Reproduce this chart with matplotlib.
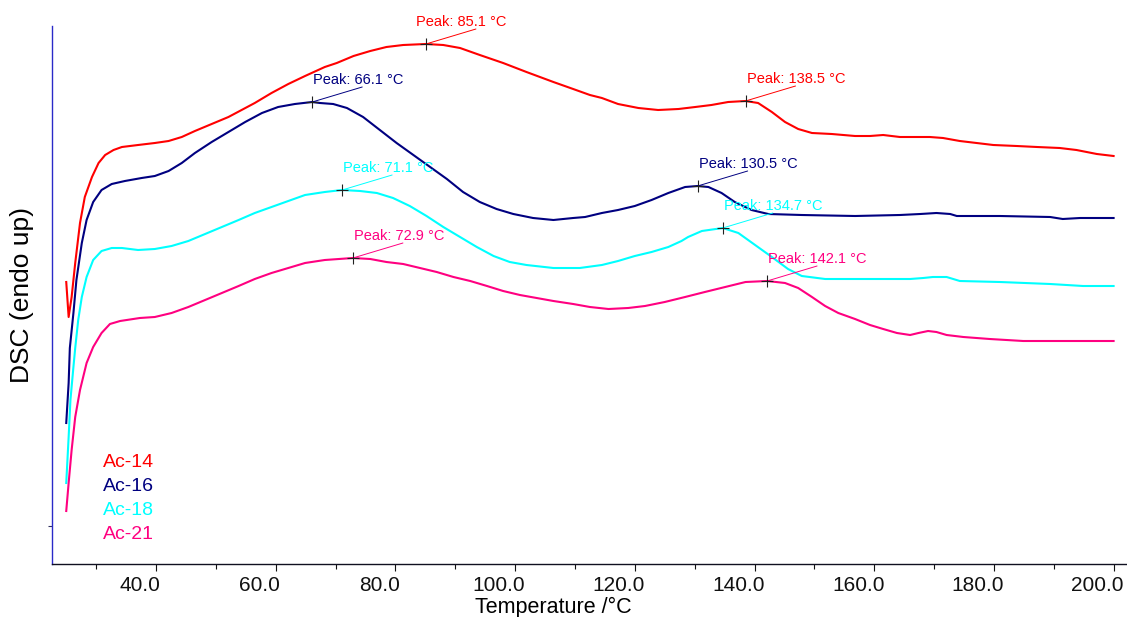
import numpy as np
import matplotlib
matplotlib.use("Agg")
import matplotlib.pyplot as plt
from matplotlib.transforms import ScaledTranslation

plt.rcParams['font.family'] = ['Liberation Sans', 'DejaVu Sans']

# Heating scans (temperature in °C, heat flow in arbitrary DSC units, endo up)
t_ac14 = [25.0, 25.4, 25.9, 26.5, 27.3, 28.1, 29.3, 30.4, 31.5, 32.9, 34.3, 37.0,
          39.8, 42.1, 44.3, 46.5, 49.3, 52.1, 54.3, 56.5, 59.3, 62.1, 64.9, 68.2,
          70.2, 73.0, 75.8, 78.5, 81.3, 85.1, 88.0, 90.8, 94.1, 98.0, 101.9, 106.4,
          109.7, 112.5, 114.5, 117.2, 120.6, 123.9, 127.3, 130.1, 132.8, 135.6,
          138.5, 140.6, 142.9, 145.1, 147.3, 149.6, 152.9, 156.8, 159.3, 161.5,
          164.3, 167.1, 169.3, 171.5, 174.3, 177.1, 179.9, 183.8, 187.2, 191.0,
          193.8, 197.2, 200.0]
dsc_ac14 = [2.83, 2.48, 2.68, 3.02, 3.42, 3.68, 3.88, 4.02, 4.10, 4.15, 4.18, 4.20,
            4.22, 4.24, 4.28, 4.34, 4.41, 4.48, 4.55, 4.62, 4.72, 4.81, 4.89, 4.98,
            5.02, 5.09, 5.14, 5.18, 5.20, 5.21, 5.20, 5.17, 5.10, 5.02, 4.93, 4.83,
            4.76, 4.70, 4.67, 4.61, 4.57, 4.55, 4.56, 4.58, 4.60, 4.63,
            4.64, 4.62, 4.53, 4.43, 4.36, 4.32, 4.31, 4.29, 4.29, 4.30,
            4.28, 4.28, 4.28, 4.27, 4.24, 4.22, 4.20, 4.19, 4.18, 4.17,
            4.15, 4.11, 4.09]

t_ac16 = [25.0, 25.4, 25.6, 26.2, 26.7, 27.6, 28.4, 29.5, 30.9, 32.6, 34.8, 37.6,
          39.8, 42.1, 44.3, 46.5, 49.3, 52.1, 54.9, 57.7, 60.4, 63.2, 66.1, 67.4,
          69.6, 71.9, 74.6, 77.4, 80.2, 83.0, 85.8, 88.6, 91.3, 94.1, 96.9, 99.7,
          103.0, 106.4, 109.7, 111.7, 114.5, 117.2, 120.0, 122.8, 125.6, 128.4,
          130.5, 132.3, 134.5, 136.7, 139.5, 142.3, 147.9, 156.8, 164.3, 167.7,
          170.4, 172.7, 173.8, 181.0, 189.4, 191.5, 194.4, 200.0]
dsc_ac16 = [1.42, 1.82, 2.17, 2.52, 2.85, 3.22, 3.45, 3.63, 3.75, 3.81, 3.84, 3.87,
            3.89, 3.94, 4.02, 4.12, 4.23, 4.33, 4.43, 4.52, 4.58, 4.61, 4.63, 4.62,
            4.61, 4.57, 4.48, 4.35, 4.22, 4.10, 3.98, 3.86, 3.73, 3.63, 3.56, 3.51,
            3.47, 3.45, 3.47, 3.48, 3.52, 3.55, 3.59, 3.65, 3.72, 3.78,
            3.79, 3.78, 3.72, 3.63, 3.55, 3.51, 3.50, 3.49, 3.50, 3.51,
            3.52, 3.51, 3.49, 3.49, 3.48, 3.46, 3.47, 3.47]

t_ac18 = [25.0, 25.4, 25.7, 26.2, 26.5, 27.0, 27.6, 28.4, 29.5, 30.9, 32.6, 34.3,
          37.0, 39.8, 42.6, 45.4, 48.2, 51.0, 53.8, 56.5, 59.3, 62.1, 64.9, 68.2,
          71.1, 74.1, 76.9, 79.6, 82.4, 85.2, 88.0, 90.8, 93.6, 96.4, 99.1, 101.9,
          106.4, 110.8, 114.5, 117.2, 120.0, 122.8, 125.6, 127.8, 128.9, 131.2,
          134.7, 137.3, 140.1, 142.9, 145.6, 147.9, 151.8, 156.8, 161.5, 166.0,
          168.2, 169.8, 172.1, 174.3, 181.0, 189.4, 194.9, 200.0]
dsc_ac18 = [0.82, 1.28, 1.65, 1.98, 2.17, 2.45, 2.68, 2.88, 3.05, 3.14, 3.17, 3.17,
            3.15, 3.16, 3.19, 3.24, 3.31, 3.38, 3.45, 3.52, 3.58, 3.64, 3.70, 3.73,
            3.75, 3.74, 3.72, 3.67, 3.59, 3.49, 3.38, 3.28, 3.18, 3.09, 3.03, 3.00,
            2.97, 2.97, 3.00, 3.04, 3.09, 3.13, 3.18, 3.24, 3.28, 3.34,
            3.37, 3.32, 3.20, 3.08, 2.96, 2.89, 2.86, 2.86, 2.86, 2.86,
            2.87, 2.88, 2.88, 2.84, 2.83, 2.81, 2.79, 2.79]

t_ac21 = [25.0, 25.4, 25.9, 26.5, 27.3, 28.4, 29.5, 30.9, 32.3, 34.0, 37.3, 39.8,
          42.6, 45.4, 48.2, 51.0, 53.8, 56.5, 59.3, 62.1, 64.9, 68.2, 72.9, 75.8,
          78.5, 81.3, 84.1, 86.9, 89.7, 92.5, 95.3, 98.0, 100.8, 103.6, 106.4,
          109.7, 112.5, 115.6, 118.9, 121.7, 125.0, 128.4, 131.7, 135.1, 138.5,
          142.1, 145.1, 147.3, 149.6, 151.8, 154.0, 156.8, 159.3, 161.5, 163.8,
          166.0, 167.4, 169.0, 170.4, 172.1, 174.9, 179.3, 184.9, 192.2, 200.0]
dsc_ac21 = [0.54, 0.82, 1.15, 1.48, 1.75, 2.02, 2.18, 2.32, 2.41, 2.44, 2.47, 2.48,
            2.52, 2.58, 2.65, 2.72, 2.79, 2.86, 2.92, 2.97, 3.02, 3.05, 3.07, 3.06,
            3.03, 3.01, 2.97, 2.93, 2.88, 2.84, 2.79, 2.74, 2.70, 2.67, 2.64,
            2.61, 2.58, 2.56, 2.57, 2.59, 2.63, 2.68, 2.73, 2.78, 2.83,
            2.84, 2.82, 2.77, 2.68, 2.59, 2.52, 2.46, 2.40, 2.36, 2.32,
            2.30, 2.32, 2.34, 2.33, 2.30, 2.28, 2.26, 2.24, 2.24, 2.24]

sample_names = ["Ac-14", "Ac-16", "Ac-18", "Ac-21"]
sample_colors = ["#ff0000", "#000080", "#00ffff", "#ff0080"]
peaks_ac14 = [85.1, 138.5]
peaks_ac16 = [66.1, 130.5]
peaks_ac18 = [71.1, 134.7]
peaks_ac21 = [72.9, 142.1]

x_ticks = [40, 60, 80, 100, 120, 140, 160, 180, 200]
x_minor = [30, 50, 70, 90, 110, 130, 150, 170, 190]

series = [
    (t_ac14, dsc_ac14, peaks_ac14),
    (t_ac16, dsc_ac16, peaks_ac16),
    (t_ac18, dsc_ac18, peaks_ac18),
    (t_ac21, dsc_ac21, peaks_ac21),
]

fig = plt.figure(figsize=(11.27, 6.17), dpi=100)
ax = fig.add_axes([52 / 1127, 53 / 617, 1 - 52 / 1127, 538 / 617])

for (t, d, pk), name, col in zip(series, sample_names, sample_colors):
    ax.plot(t, d, color=col, lw=1.5, solid_joinstyle='round', zorder=2)
    for p in pk:
        yp = np.interp(p, t, d)
        ax.plot([p], [yp], marker='+', ms=9, mew=0.8, color='#202020',
                linestyle='none', zorder=4)
        # leader line from the peak mark up to the label
        ax.annotate('', xy=(p, yp), xytext=(50, 15), textcoords='offset pixels',
                    arrowprops=dict(arrowstyle='-', color=col, lw=0.7,
                                    shrinkA=0, shrinkB=0), zorder=3)
        dx = -10 if p == 85.1 else 1
        ax.annotate(f"Peak: {p:.1f} °C", xy=(p, yp), xytext=(dx, 18),
                    textcoords='offset pixels', ha='left', va='baseline',
                    fontsize=10.5, color=col, zorder=5)

# sample names in the lower left corner
legend_y = [467, 491, 515, 539]
for name, col, yb in zip(sample_names, sample_colors, legend_y):
    ax.text((103 - 52) / 1075, (564 - yb) / 538, name, transform=ax.transAxes,
            ha='left', va='baseline', fontsize=14, color=col)

ax.set_xlim(22.62, 202.24)
ax.set_ylim(0.01, 5.39)

ax.set_xticks(x_ticks)
ax.set_xticklabels([f"{v:.1f}" for v in x_ticks])
ax.set_xticks(x_minor, minor=True)
ax.tick_params(axis='x', which='major', direction='out', length=5, width=0.8,
               labelsize=15, pad=3.5, colors='#111111')
ax.tick_params(axis='x', which='minor', direction='out', length=3.5, width=0.8,
               colors='#111111')
shift = ScaledTranslation(-16 / 100, 0, fig.dpi_scale_trans)
for lab in ax.get_xticklabels():
    lab.set_transform(lab.get_transform() + shift)

ax.set_yticks([0.39])
ax.set_yticklabels([''])
ax.tick_params(axis='y', direction='out', length=3, width=0.8, colors='#303060')

for s in ('top', 'right'):
    ax.spines[s].set_visible(False)
ax.spines['left'].set_color('#2a2ac8')
ax.spines['left'].set_linewidth(1.0)
ax.spines['bottom'].set_color('#101020')
ax.spines['bottom'].set_linewidth(1.0)

ax.set_xlabel("Temperature /°C", fontsize=15.5)
ax.xaxis.set_label_coords((553 - 52) / 1075, (564 - 607) / 538)
ax.xaxis.label.set_va('center')
ax.set_ylabel("DSC (endo up)", fontsize=19)
ax.yaxis.set_label_coords((22 - 52) / 1075, (564 - 295) / 538)
ax.yaxis.label.set_va('center')

fig.savefig("out.png", dpi=100)
